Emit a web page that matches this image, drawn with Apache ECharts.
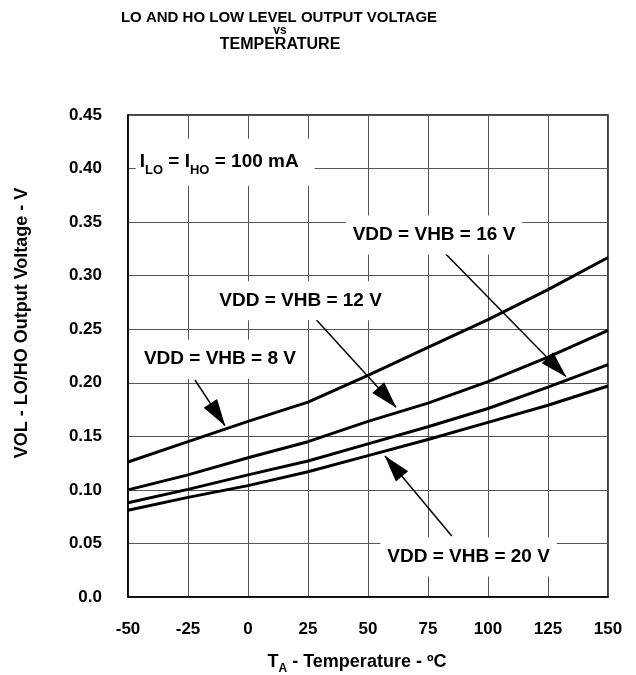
<!DOCTYPE html>
<html>
<head>
<meta charset="utf-8">
<script src="https://cdn.jsdelivr.net/npm/echarts@6/dist/echarts.min.js"></script>
<style>
html, body { margin: 0; padding: 0; background: #fff; }
#chart { width: 636px; height: 675px; }
</style>
</head>
<body>
<div id="chart"></div>
<script>
// temperature points (°C)
const temps = [-50, -25, 0, 25, 50, 75, 100, 125, 150]
// VOL (V) for each supply voltage
const vol8V = [0.126, 0.145, 0.164, 0.182, 0.207, 0.233, 0.259, 0.287, 0.317]
const vol12V = [0.100, 0.114, 0.130, 0.145, 0.164, 0.181, 0.201, 0.224, 0.249]
const vol16V = [0.088, 0.1005, 0.114, 0.127, 0.143, 0.159, 0.176, 0.196, 0.217]
const vol20V = [0.081, 0.093, 0.104, 0.117, 0.132, 0.147, 0.163, 0.179, 0.197]

// annotation texts and where they sit (data coords)
const labelTexts = ['VDD = VHB = 8 V', 'VDD = VHB = 12 V', 'VDD = VHB = 16 V', 'VDD = VHB = 20 V']
const labelAt = [[-11.7, 0.2220], [21.9, 0.2766], [77.5, 0.3380], [91.9, 0.0373]]
// arrows: start -> tip
const arrowFrom = [[-22.1, 0.2026], [27.9, 0.2602], [82.1, 0.3209], [84.9, 0.057]]
const arrowTo = [[-9.6, 0.16], [61.7, 0.1771], [132.5, 0.2057], [57.1, 0.1316]]
const currentLabel = '{m|I}{s|LO}{m| = I}{s|HO}{m| = 100 mA}'
const currentAt = [-9.5, 0.406]

const font = '"Liberation Sans", Arial, Helvetica, sans-serif'

const pairs = (vals) => temps.map((t, i) => [t, vals[i]])

const curve = (name, vals) => ({
  name: name,
  type: 'line',
  data: pairs(vals),
  showSymbol: false,
  silent: true,
  lineStyle: { color: '#000', width: 3 },
  z: 3,
})

const series = [
  curve('8 V', vol8V),
  curve('12 V', vol12V),
  curve('16 V', vol16V),
  curve('20 V', vol20V),
]

// arrows with filled heads
series[0].markLine = {
  silent: true,
  animation: false,
  symbol: ['none', 'triangle'],
  label: { show: false },
  lineStyle: { color: '#000', width: 1.5, type: 'solid' },
  data: arrowFrom.map((p, i) => [
    { coord: p, symbol: 'none' },
    { coord: arrowTo[i], symbol: 'triangle', symbolSize: [16, 27], symbolOffset: [0, 13] },
  ]),
  z: 4,
}

// text boxes with white background
const boxLabel = {
  show: true,
  position: 'inside',
  color: '#000',
  fontFamily: font,
  fontWeight: 'bold',
  fontSize: 19,
  lineHeight: 21,
  backgroundColor: '#fff',
  padding: [9, 7],
}
series[1].markPoint = {
  silent: true,
  animation: false,
  symbol: 'rect',
  symbolSize: 1,
  itemStyle: { color: 'rgba(0,0,0,0)' },
  data: labelTexts
    .map((txt, i) => ({
      coord: labelAt[i],
      label: Object.assign({}, boxLabel, { formatter: txt }),
    }))
    .concat([
      {
        coord: currentAt,
        label: Object.assign({}, boxLabel, {
          formatter: currentLabel,
          padding: [9, 16, 9, 4],
          rich: {
            m: { fontFamily: font, fontWeight: 'bold', fontSize: 19, lineHeight: 29, color: '#000' },
            s: { fontFamily: font, fontWeight: 'bold', fontSize: 13, lineHeight: 14, verticalAlign: 'bottom', color: '#000' },
          },
        }),
      },
    ]),
  z: 5,
}

const option = {
  animation: false,
  backgroundColor: '#fff',
  grid: {
    left: 128,
    right: 28,
    top: 115,
    bottom: 78,
    show: true,
    borderColor: '#000',
    borderWidth: 1.5,
  },
  xAxis: {
    type: 'value',
    min: -50,
    max: 150,
    interval: 25,
    axisLine: { show: true, onZero: false, lineStyle: { color: '#000', width: 1.5 } },
    axisTick: { show: false },
    axisLabel: {
      margin: 24,
      color: '#000',
      fontFamily: font,
      fontWeight: 'bold',
      fontSize: 17,
    },
    splitLine: { show: true, lineStyle: { color: '#555', width: 1 } },
  },
  yAxis: {
    type: 'value',
    min: 0,
    max: 0.45,
    interval: 0.05,
    axisLine: { show: true, onZero: false, lineStyle: { color: '#000', width: 1.5 } },
    axisTick: { show: false },
    axisLabel: {
      margin: 26,
      color: '#000',
      fontFamily: font,
      fontWeight: 'bold',
      fontSize: 17,
      formatter: (v) => (v === 0 ? '0.0' : v.toFixed(2)),
    },
    splitLine: { show: true, lineStyle: { color: '#555', width: 1 } },
  },
  graphic: [
    // title
    {
      type: 'text', x: 279, y: 18,
      style: { text: 'LO AND HO LOW LEVEL OUTPUT VOLTAGE', font: 'bold 15px ' + font, fill: '#000', textAlign: 'center', textVerticalAlign: 'middle' },
    },
    {
      type: 'text', x: 280, y: 31,
      style: { text: 'vs', font: 'bold 12px ' + font, fill: '#000', textAlign: 'center', textVerticalAlign: 'middle' },
    },
    {
      type: 'text', x: 280, y: 45,
      style: { text: 'TEMPERATURE', font: 'bold 16px ' + font, fill: '#000', textAlign: 'center', textVerticalAlign: 'middle' },
    },
    // y axis name
    {
      type: 'text', x: 22, y: 323, rotation: Math.PI / 2,
      style: { text: 'VOL - LO/HO Output Voltage - V', font: 'bold 18px ' + font, fill: '#000', textAlign: 'center', textVerticalAlign: 'middle' },
    },
    // x axis name
    {
      type: 'text', x: 357, y: 662,
      style: {
        text: '{m|T}{s|A}{m| - Temperature - ºC}',
        textAlign: 'center',
        textVerticalAlign: 'middle',
        rich: {
          m: { fontFamily: font, fontWeight: 'bold', fontSize: 18, lineHeight: 26, fill: '#000' },
          s: { fontFamily: font, fontWeight: 'bold', fontSize: 12, lineHeight: 14, verticalAlign: 'bottom', fill: '#000' },
        },
      },
    },
  ],
  series: series,
}

const chart = echarts.init(document.getElementById('chart'))
chart.setOption(option)
</script>
</body>
</html>
